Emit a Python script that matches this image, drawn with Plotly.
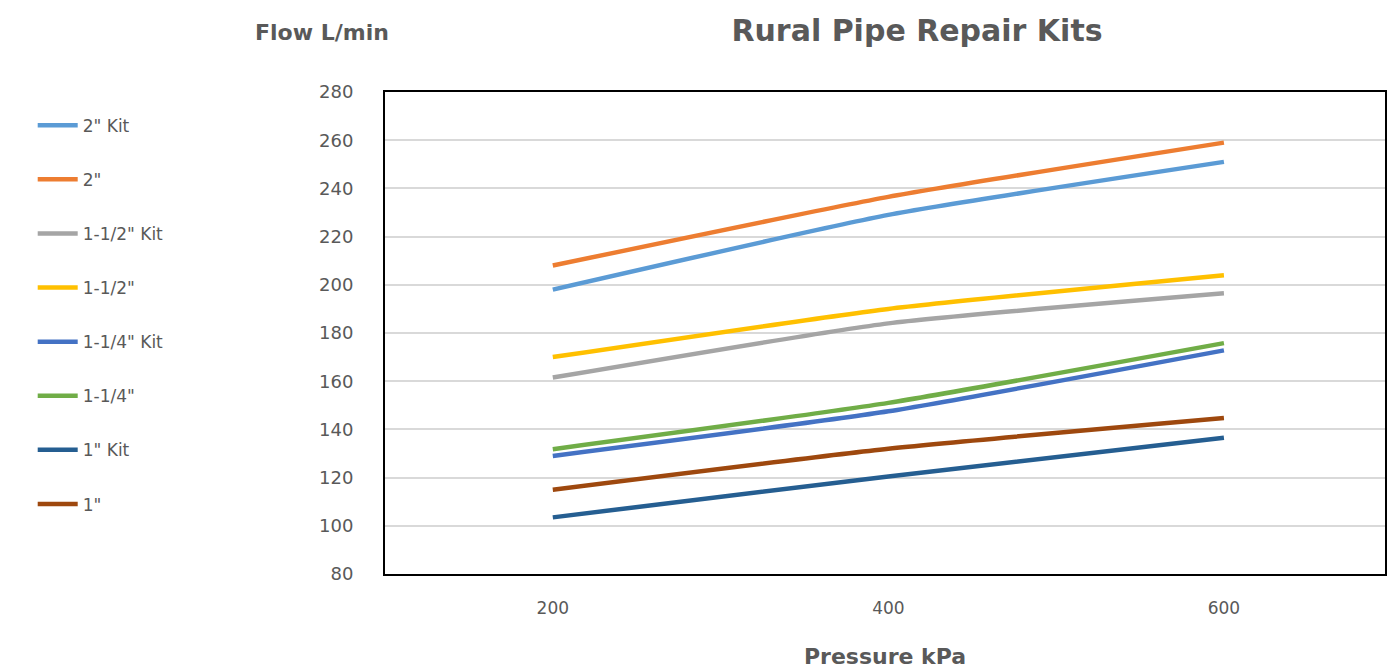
import plotly.graph_objects as go

pressure = [200, 400, 600]
series_names = ['2" Kit', '2"', '1-1/2" Kit', '1-1/2"', '1-1/4" Kit', '1-1/4"', '1" Kit', '1"']
kit2 = [198, 229, 251]
pipe2 = [208, 236.5, 259]
kit112 = [161.5, 184, 196.5]
pipe112 = [170, 190, 204]
kit114 = [129, 147.5, 172.8]
pipe114 = [131.8, 151, 175.8]
kit1 = [103.5, 120.5, 136.5]
pipe1 = [115, 132, 144.7]
colors = ['#5B9BD5', '#ED7D31', '#A5A5A5', '#FFC000', '#4472C4', '#70AD47', '#255E91', '#9E480E']
y_ticks = [80, 100, 120, 140, 160, 180, 200, 220, 240, 260, 280]
x_ticks = [200, 400, 600]

values = [kit2, pipe2, kit112, pipe112, kit114, pipe114, kit1, pipe1]

FONT = "DejaVu Sans"
GRAY = "#595959"

# page has an 8px body margin; figure coordinates are offset accordingly
W, H = 1379, 661
L, R, T, B = 377, 0, 84, 95
PW, PH = W - L - R, H - T - B

fig = go.Figure()
for i, (name, vals, col) in enumerate(zip(series_names, values, colors)):
    fig.add_trace(go.Scatter(
        x=pressure, y=vals, name=name, mode="lines",
        line=dict(color=col, width=4.5, shape="spline", smoothing=0.5),
        legendgroup=f"g{i}",
    ))

fig.update_layout(
    width=W, height=H,
    paper_bgcolor="white", plot_bgcolor="white",
    margin=dict(l=L, r=R, t=T, b=B),
    font=dict(family=FONT, color=GRAY, size=17),
    title=dict(text="<b>Rural Pipe Repair Kits</b>", x=909 / W, xanchor="center", xref="container",
               y=1 - 22 / H, yanchor="middle", yref="container",
               font=dict(size=30, color=GRAY, family=FONT)),
    showlegend=True,
    legend=dict(x=(24 - L) / PW, xref="paper", xanchor="left",
                y=1 - (99.7 - T) / PH, yanchor="top",
                font=dict(size=17, color=GRAY, family=FONT),
                tracegroupgap=29, itemwidth=40, bgcolor="rgba(0,0,0,0)"),
    xaxis=dict(range=[100, 696], tickvals=x_ticks, ticktext=[str(v) for v in x_ticks],
               showgrid=False, zeroline=False, showline=True, linecolor="black",
               linewidth=2, mirror=True, ticks="", ticklabelstandoff=18,
               tickfont=dict(size=17, color=GRAY),
               title=dict(text="<b>Pressure kPa</b>", font=dict(size=22, color=GRAY), standoff=31)),
    yaxis=dict(range=[80, 280], tickvals=y_ticks, showgrid=True, gridcolor="#D9D9D9",
               gridwidth=1.5, zeroline=False, showline=True, linecolor="black",
               linewidth=2, mirror=True, ticks="", ticklabelstandoff=26,
               tickfont=dict(size=18, color=GRAY)),
    annotations=[dict(text="<b>Flow L/min</b>", x=(314 - L) / PW, xref="paper",
                      y=1 + (T - 25) / PH, yref="paper", xanchor="center", yanchor="middle",
                      showarrow=False, font=dict(size=22, color=GRAY))],
)

fig.write_html("out.html")
